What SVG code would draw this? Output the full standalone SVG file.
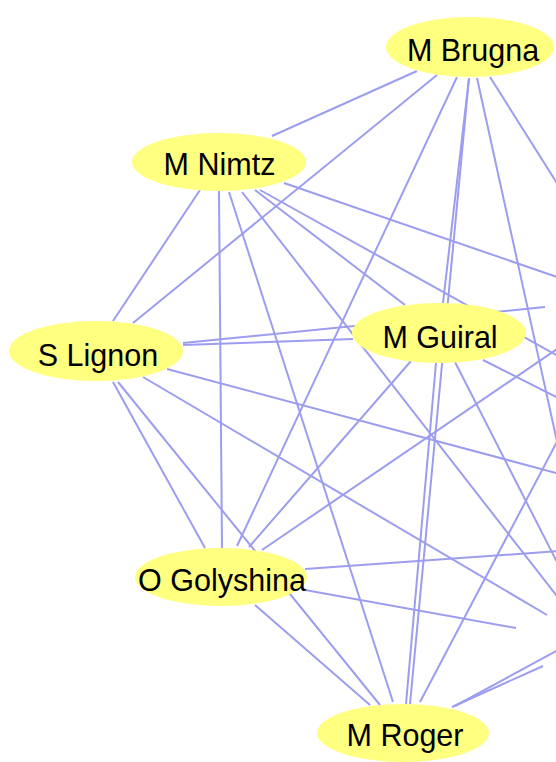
<svg xmlns="http://www.w3.org/2000/svg" width="556" height="762" viewBox="0 0 556 762">
<style>
.e{stroke:#9d9def;stroke-width:2;fill:none}
.n ellipse{fill:#ffff80;stroke:none}
.n text{font-family:"Liberation Sans",Arial,sans-serif;font-size:30.5px;fill:#000;text-anchor:middle}
</style>
<rect width="556" height="762" fill="#fff"/>
<g id="edges" class="e">
<line x1="272" y1="136" x2="417" y2="71"/>
<line x1="200" y1="190" x2="113" y2="321"/>
<line x1="219" y1="191" x2="222" y2="548"/>
<line x1="229" y1="192" x2="393" y2="702"/>
<line x1="242" y1="192" x2="560" y2="600"/>
<line x1="255" y1="190" x2="405" y2="305"/>
<line x1="260" y1="190" x2="560" y2="357"/>
<line x1="284" y1="183" x2="560" y2="278"/>
<line x1="133" y1="323" x2="437" y2="75"/>
<line x1="183" y1="345" x2="353" y2="339"/>
<line x1="183" y1="343" x2="545" y2="307"/>
<line x1="167" y1="369" x2="560" y2="474"/>
<line x1="143" y1="377" x2="547" y2="615"/>
<line x1="113" y1="382" x2="205" y2="548"/>
<line x1="118" y1="382" x2="380" y2="705"/>
<line x1="237" y1="546" x2="457" y2="77"/>
<line x1="249" y1="547" x2="411" y2="361"/>
<line x1="262" y1="550" x2="560" y2="347"/>
<line x1="305" y1="569" x2="560" y2="551"/>
<line x1="305" y1="590" x2="516" y2="628"/>
<line x1="255" y1="605" x2="370" y2="705"/>
<line x1="469" y1="78" x2="443" y2="303"/>
<line x1="469" y1="78" x2="410" y2="704"/>
<line x1="490" y1="77" x2="560" y2="188"/>
<line x1="477" y1="78" x2="560" y2="455"/>
<line x1="436" y1="363" x2="406" y2="704"/>
<line x1="455" y1="362" x2="560" y2="568"/>
<line x1="483" y1="360" x2="560" y2="399"/>
<line x1="420" y1="702" x2="560" y2="436"/>
<line x1="452" y1="707" x2="543" y2="666"/>
<line x1="455" y1="706" x2="560" y2="649"/>
</g>
<g id="node-brugna" class="n"><ellipse cx="470" cy="47" rx="84" ry="30"/><text x="473" y="61">M Brugna</text></g>
<g id="node-nimtz" class="n"><ellipse cx="219" cy="162" rx="87" ry="29"/><text x="219.5" y="175">M Nimtz</text></g>
<g id="node-lignon" class="n"><ellipse cx="96" cy="351" rx="87" ry="30"/><text x="98" y="365.5">S Lignon</text></g>
<g id="node-guiral" class="n"><ellipse cx="439" cy="333" rx="87" ry="30"/><text x="440" y="347.5">M Guiral</text></g>
<g id="node-golyshina" class="n"><ellipse cx="221" cy="577" rx="86" ry="29"/><text x="222" y="591">O Golyshina</text></g>
<g id="node-roger" class="n"><ellipse cx="403" cy="733" rx="86" ry="29"/><text x="405" y="746">M Roger</text></g>
</svg>
